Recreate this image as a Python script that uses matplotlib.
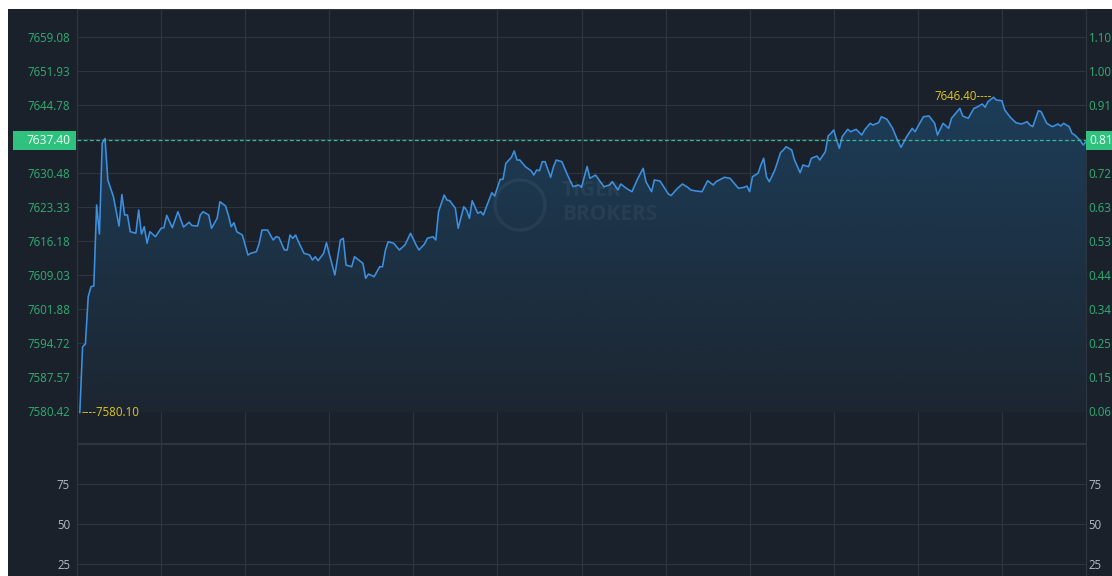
import numpy as np
import matplotlib
matplotlib.use("Agg")
import matplotlib.pyplot as plt
from matplotlib.patches import Rectangle, Ellipse
from matplotlib.colors import LinearSegmentedColormap
from matplotlib.transforms import blended_transform_factory

# 分时数据（分钟, 价格）
minutes = [1, 2, 3, 4, 5, 6, 7, 8, 9, 10,
           11, 13, 15, 16, 17, 18, 19, 21, 22, 23,
           24, 25, 26, 28, 30, 31, 32, 34, 36, 38,
           40, 41, 43, 44, 45, 47, 48, 50, 51, 53,
           54, 55, 56, 57, 59, 61, 62, 64, 65, 66,
           68, 70, 71, 72, 74, 75, 76, 77, 78, 79,
           81, 83, 84, 85, 86, 88, 89, 90, 92, 94,
           95, 96, 98, 99, 102, 103, 104, 106, 108, 109,
           110, 111, 113, 115, 117, 119, 121, 122, 124, 125,
           127, 128, 129, 131, 132, 133, 135, 136, 138, 139,
           140, 141, 143, 144, 145, 146, 148, 149, 151, 152,
           153, 155, 156, 157, 158, 160, 162, 163, 164, 165,
           166, 167, 169, 170, 171, 173, 175, 177, 179, 180,
           182, 183, 185, 188, 190, 191, 193, 194, 196, 198,
           200, 202, 203, 205, 206, 208, 211, 212, 214, 216,
           218, 219, 221, 223, 225, 227, 228, 231, 233, 236,
           238, 239, 240, 241, 243, 244, 245, 246, 247, 249,
           251, 252, 253, 255, 256, 258, 259, 261, 262, 264,
           265, 267, 268, 269, 270, 271, 272, 273, 275, 276,
           278, 280, 281, 283, 284, 286, 287, 289, 291, 293,
           294, 296, 298, 299, 301, 302, 304, 306, 307, 309,
           311, 312, 315, 316, 318, 320, 321, 323, 324, 325,
           327, 328, 330, 331, 333, 335, 337, 339, 340, 341,
           343, 344, 346, 348, 350, 351, 352, 354, 355, 356,
           358, 359, 360]
prices = [7580.10, 7593.94, 7594.51, 7604.46, 7606.56, 7606.71, 7623.74, 7617.64, 7636.78, 7637.72,
          7629.00, 7625.49, 7619.32, 7625.95, 7621.64, 7621.64, 7618.13, 7617.79, 7622.69, 7617.64,
          7619.18, 7615.69, 7618.13, 7617.07, 7618.84, 7618.97, 7621.57, 7618.97, 7622.33, 7619.11,
          7620.12, 7619.43, 7619.32, 7621.64, 7622.33, 7621.64, 7618.84, 7620.94, 7624.43, 7623.53,
          7621.64, 7619.18, 7620.02, 7618.13, 7617.43, 7613.23, 7613.58, 7613.92, 7615.69, 7618.48,
          7618.48, 7616.38, 7617.07, 7616.95, 7614.28, 7614.28, 7617.43, 7616.74, 7617.43, 7616.02,
          7613.58, 7613.23, 7612.17, 7612.87, 7612.03, 7613.58, 7615.81, 7613.44, 7609.02, 7616.38,
          7616.74, 7611.12, 7610.76, 7612.87, 7611.48, 7608.33, 7609.23, 7608.66, 7610.76, 7610.76,
          7614.13, 7616.02, 7615.69, 7614.28, 7615.33, 7617.79, 7615.33, 7614.28, 7615.54, 7616.74,
          7617.07, 7616.38, 7622.33, 7625.84, 7624.79, 7624.64, 7623.05, 7618.84, 7623.38, 7622.69,
          7620.94, 7624.64, 7621.99, 7622.33, 7621.64, 7623.26, 7626.33, 7625.63, 7629.14, 7629.14,
          7632.51, 7633.77, 7635.10, 7633.20, 7633.20, 7631.79, 7630.95, 7630.05, 7631.10, 7630.95,
          7632.85, 7632.85, 7629.57, 7631.79, 7633.20, 7632.85, 7630.05, 7627.59, 7627.95, 7627.46,
          7631.84, 7629.35, 7630.05, 7627.59, 7627.95, 7628.64, 7626.89, 7628.16, 7627.25, 7626.54,
          7629.21, 7631.46, 7628.64, 7626.54, 7629.00, 7628.79, 7626.05, 7625.74, 7627.10, 7628.16,
          7627.42, 7626.89, 7626.68, 7626.54, 7628.85, 7627.95, 7628.64, 7629.57, 7629.35, 7627.25,
          7627.46, 7627.74, 7626.54, 7629.69, 7630.41, 7632.15, 7633.56, 7629.69, 7628.64, 7631.10,
          7634.74, 7635.31, 7636.00, 7635.31, 7633.20, 7630.53, 7632.15, 7631.79, 7633.56, 7634.04,
          7633.20, 7634.95, 7638.25, 7638.82, 7639.51, 7637.41, 7635.66, 7638.10, 7639.66, 7639.15,
          7639.66, 7638.46, 7639.51, 7640.92, 7640.56, 7641.05, 7642.31, 7641.76, 7639.87, 7637.05,
          7635.87, 7638.10, 7639.87, 7639.15, 7641.26, 7642.31, 7642.46, 7640.92, 7638.46, 7640.92,
          7639.87, 7641.97, 7644.07, 7642.46, 7641.97, 7644.07, 7644.29, 7644.98, 7644.29, 7645.46,
          7646.40, 7645.82, 7645.67, 7643.72, 7642.18, 7641.05, 7640.77, 7641.26, 7640.56, 7640.21,
          7643.57, 7643.36, 7640.92, 7640.21, 7640.77, 7640.35, 7640.92, 7640.21, 7638.82, 7638.46,
          7637.26, 7636.36, 7637.05]

prev_close = 7637.40
price_ticks = [7580.42, 7587.57, 7594.72, 7601.88, 7609.03, 7616.18,
               7623.33, 7630.48, 7637.63, 7644.78, 7651.93, 7659.08]
pct_labels = ["0.06", "0.15", "0.25", "0.34", "0.44", "0.53",
              "0.63", "0.72", "0.81", "0.91", "1.00", "1.10"]
prev_close_pct = "0.81"
vol_ticks = [25, 50, 75, 100]
vol_labels = ["25", "50", "75", ""]
time_grid = list(range(0, 361, 30))

# 颜色
BG = "#1b212a"
GRID = "#2d3540"
GREEN_TXT = "#2fae74"
GREEN_BOX = "#2ec27e"
LINE = "#3d90e0"
YELLOW = "#e0c81c"
GRAY_TXT = "#b4bcc4"
FONT = ["Open Sans", "DejaVu Sans"]

W, H = 1112, 576
fig = plt.figure(figsize=(W / 100, H / 100), dpi=100, facecolor=BG)
# 左、上白边
fig.patches.append(Rectangle((0, 0), 8 / W, 1, transform=fig.transFigure,
                             facecolor="white", edgecolor="none"))
fig.patches.append(Rectangle((0, 1 - 9 / H), 1, 9 / H, transform=fig.transFigure,
                             facecolor="white", edgecolor="none"))

ax = fig.add_axes([77 / W, 1 - 443 / H, 1009 / W, 434 / H])
ax2 = fig.add_axes([77 / W, 0, 1009 / W, 133 / H])

for a in (ax, ax2):
    a.set_facecolor("none")
    for s in a.spines.values():
        s.set_color(GRID)
        s.set_linewidth(0.8)
    a.tick_params(length=0)
    a.set_xticks([])
    a.set_xlim(0, 360)
    for t in time_grid:
        a.axvline(t, color=GRID, lw=0.8, zorder=0.5)

# 价格区
ylo, yhi = 7573.69, 7664.96
for v in price_ticks:
    ax.axhline(v, color=GRID, lw=0.8, zorder=0.5)

base = min(prices)
fill = ax.fill_between(minutes, prices, base, color="none", lw=0)
cmap = LinearSegmentedColormap.from_list("g", ["#1c2631", "#1c3d58"])
grad = np.linspace(0, 1, 256).reshape(-1, 1)
img = ax.imshow(grad, extent=[minutes[0], minutes[-1], base, max(prices)], origin="lower",
                aspect="auto", cmap=cmap, zorder=1)
img.set_clip_path(fill.get_paths()[0], transform=ax.transData)
ax.plot(minutes, prices, color=LINE, lw=1.15, zorder=3)
ax.axhline(prev_close, color="#3bb99a", lw=0.9, ls=(0, (3, 2)), zorder=4)
ax.set_xlim(0, 360)
ax.set_ylim(ylo, yhi)

ax.set_yticks(price_ticks)
ax.set_yticklabels(["" if abs(v - prev_close) < 1 else f"{v:.2f}" for v in price_ticks])
ax.tick_params(axis="y", colors=GREEN_TXT, pad=5, labelsize=8.3)
for lb in ax.get_yticklabels():
    lb.set_family(FONT)

axr = ax.twinx()
axr.set_ylim(ylo, yhi)
axr.set_yticks(price_ticks)
axr.set_yticklabels(["" if abs(v - prev_close) < 1 else p for v, p in zip(price_ticks, pct_labels)])
axr.tick_params(axis="y", colors=GREEN_TXT, pad=2, length=0, labelsize=8.3)
for lb in axr.get_yticklabels():
    lb.set_family(FONT)
for s in axr.spines.values():
    s.set_visible(False)

# 昨收标签
trans = blended_transform_factory(fig.transFigure, ax.transData)
bh = 19 * (yhi - ylo) / 434
fig.patches.append(Rectangle((13 / W, prev_close - bh / 2), 63 / W, bh, transform=trans,
                             facecolor=GREEN_BOX, edgecolor="none", zorder=5))
fig.patches.append(Rectangle((1086 / W, prev_close - bh / 2), 26 / W, bh, transform=trans,
                             facecolor=GREEN_BOX, edgecolor="none", zorder=5))
fig.text(70 / W, prev_close, f"{prev_close:.2f}", transform=trans, ha="right", va="center",
         color="#f2fff7", fontsize=8.6, family=FONT, zorder=6)
fig.text(1089 / W, prev_close, prev_close_pct, transform=trans, ha="left", va="center",
         color="#f2fff7", fontsize=8.6, family=FONT, zorder=6)

# 最高/最低标注
i_hi = int(np.argmax(prices))
i_lo = int(np.argmin(prices))
ax.annotate(f"{prices[i_hi]:.2f}----", (minutes[i_hi], prices[i_hi]), xytext=(-1.5, 0.5),
            textcoords="offset points", ha="right", va="center", color=YELLOW,
            fontsize=8.3, family=FONT, zorder=6)
ax.annotate(f"----{prices[i_lo]:.2f}", (minutes[i_lo], prices[i_lo]), xytext=(1, 0),
            textcoords="offset points", ha="left", va="center", color=YELLOW,
            fontsize=8.3, family=FONT, zorder=6)

# 水印
fig.patches.append(Ellipse((520 / W, 1 - 205 / H), 50 / W, 50 / H, transform=fig.transFigure,
                           facecolor="none", edgecolor=(1, 1, 1, 0.05), lw=2.5, zorder=2))
fig.text(562 / W, 1 - 190 / H, "TIGER", color=(1, 1, 1, 0.05), fontsize=15,
         fontweight="bold", family=FONT, va="center", ha="left", zorder=2)
fig.text(562 / W, 1 - 215 / H, "BROKERS", color=(1, 1, 1, 0.05), fontsize=15,
         fontweight="bold", family=FONT, va="center", ha="left", zorder=2)

# 成交量区
ax2.set_ylim(17.5, 100.6)
for v in vol_ticks:
    ax2.axhline(v, color=GRID, lw=0.8, zorder=0.5)
ax2.set_yticks(vol_ticks)
ax2.set_yticklabels(vol_labels)
ax2.tick_params(axis="y", colors=GRAY_TXT, pad=5, labelsize=8.3)
for lb in ax2.get_yticklabels():
    lb.set_family(FONT)
ax2r = ax2.twinx()
ax2r.set_ylim(17.5, 100.6)
ax2r.set_yticks(vol_ticks)
ax2r.set_yticklabels(vol_labels)
ax2r.tick_params(axis="y", colors=GRAY_TXT, pad=2, length=0, labelsize=8.3)
for lb in ax2r.get_yticklabels():
    lb.set_family(FONT)
for s in ax2r.spines.values():
    s.set_visible(False)

fig.savefig("out.png", dpi=100, facecolor=BG)
